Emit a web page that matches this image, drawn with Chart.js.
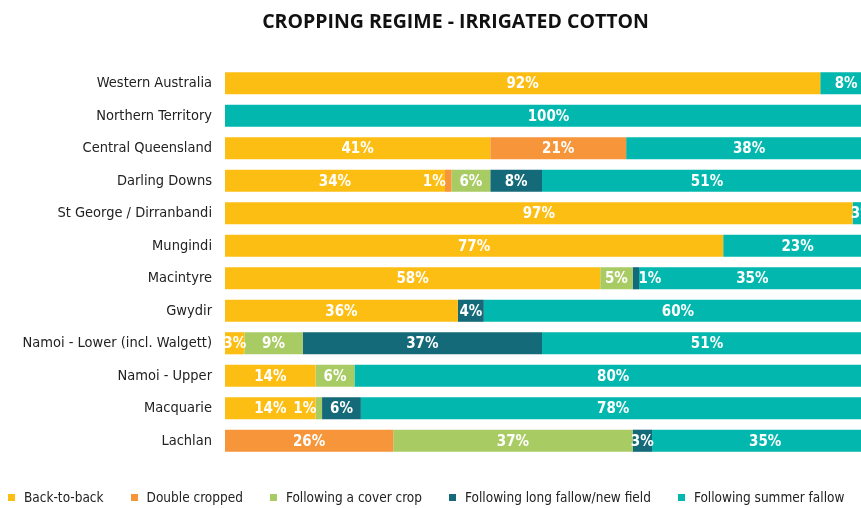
<!DOCTYPE html>
<html>
<head>
<meta charset="utf-8">
<script src="https://cdn.jsdelivr.net/npm/chart.js@4.4.1/dist/chart.umd.min.js"></script>
<style>
    html, body { margin: 0; padding: 0; background: #fff; }
    #wrap { position: relative; width: 861px; height: 508px; overflow: hidden; }
    #title {
        position: absolute; top: 7px; left: 50px; right: 0;
        text-align: center; font: bold 19.5px "Open Sans", sans-serif; color: #111;
    }
    #legend {
        position: absolute; left: 8px; top: 489px; display: flex; gap: 27px; white-space: nowrap;
        font: 13.5px "DejaVu Sans Condensed", "Liberation Sans Narrow", "Roboto", sans-serif; color: #222;
    }
    #legend .item { display: flex; align-items: center; }
    #legend span.box { display: inline-block; width: 7px; height: 7px; margin-right: 9px; }
</style>
</head>
<body>
<div id="wrap">
    <div id="title">CROPPING REGIME - IRRIGATED COTTON</div>
    <canvas id="cropping-regime" width="872" height="508"></canvas>
    <div id="legend"></div>
</div>
<script>
const regions = ['Western Australia', 'Northern Territory', 'Central Queensland', 'Darling Downs',
    'St George / Dirranbandi', 'Mungindi', 'Macintyre', 'Gwydir', 'Namoi - Lower (incl. Walgett)',
    'Namoi - Upper', 'Macquarie', 'Lachlan'];

const backToBack      = [92, 0, 41, 34, 97, 77, 58, 36, 3, 14, 14, 0];
const doubleCropped   = [0, 0, 21, 1, 0, 0, 0, 0, 0, 0, 0, 26];
const coverCrop       = [0, 0, 0, 6, 0, 0, 5, 0, 9, 6, 1, 37];
const longFallow      = [0, 0, 0, 8, 0, 0, 1, 4, 37, 0, 6, 3];
const summerFallow    = [8, 100, 38, 51, 3, 23, 35, 60, 51, 80, 78, 35];

const seriesNames  = ['Back-to-back', 'Double cropped', 'Following a cover crop',
    'Following long fallow/new field', 'Following summer fallow'];
const seriesColors = ['#FDBE14', '#F6953A', '#A9CB63', '#146A78', '#02B8AE'];
const seriesData   = [backToBack, doubleCropped, coverCrop, longFallow, summerFallow];

const labelFont = '"DejaVu Sans Condensed", "Liberation Sans Narrow", "Roboto", sans-serif';

// white percentage text in the middle of each segment;
// 1% slivers get their text pushed toward the bigger neighbour
const segmentLabels = {
    id: 'segmentLabels',
    afterDatasetsDraw(chart) {
        let ctx = chart.ctx;
        let sets = chart.data.datasets;
        ctx.save();
        ctx.fillStyle = '#fff';
        ctx.font = 'bold 15px ' + labelFont;
        ctx.textAlign = 'center';
        ctx.textBaseline = 'middle';
        sets.forEach((ds, i) => {
            chart.getDatasetMeta(i).data.forEach((bar, j) => {
                let v = ds.data[j];
                if (!v) return;
                let p = bar.getCenterPoint();
                let x = p.x;
                if (v < 2) {
                    let before = 0, after = 0;
                    for (let k = i - 1; k >= 0 && !before; k--) before = sets[k].data[j];
                    for (let k = i + 1; k < sets.length && !after; k++) after = sets[k].data[j];
                    x += before > after ? -14 : 14;
                }
                ctx.fillText(v + '%', x, p.y + 1);
            });
        });
        ctx.restore();
    }
};

let ctx = document.getElementById('cropping-regime').getContext('2d');

let croppingChart = new Chart(ctx, {
    type: 'bar',
    data: {
        labels: regions,
        datasets: seriesData.map((d, i) => ({
            label: seriesNames[i],
            data: d,
            backgroundColor: seriesColors[i],
            borderWidth: 0,
            categoryPercentage: 1,
            barPercentage: 0.68
        }))
    },
    options: {
        indexAxis: 'y',
        responsive: false,
        animation: false,
        layout: { padding: { top: 67, bottom: 51, left: 0, right: 0 } },
        plugins: {
            legend: { display: false },
            tooltip: { enabled: false }
        },
        scales: {
            x: { stacked: true, min: 0, max: 100, display: false },
            y: {
                stacked: true,
                grid: { display: false, drawTicks: false },
                border: { display: false },
                ticks: {
                    padding: 13,
                    color: '#222',
                    font: { size: 14.5, family: labelFont }
                },
                afterFit: function (scale) {
                    scale.width = 225;
                }
            }
        }
    },
    plugins: [segmentLabels]
});

// legend row under the bars
let legend = document.getElementById('legend');
seriesNames.forEach((name, i) => {
    let item = document.createElement('div');
    item.className = 'item';
    item.innerHTML = '<span class="box" style="background:' + seriesColors[i] + '"></span>' + name;
    legend.appendChild(item);
});
</script>
</body>
</html>
